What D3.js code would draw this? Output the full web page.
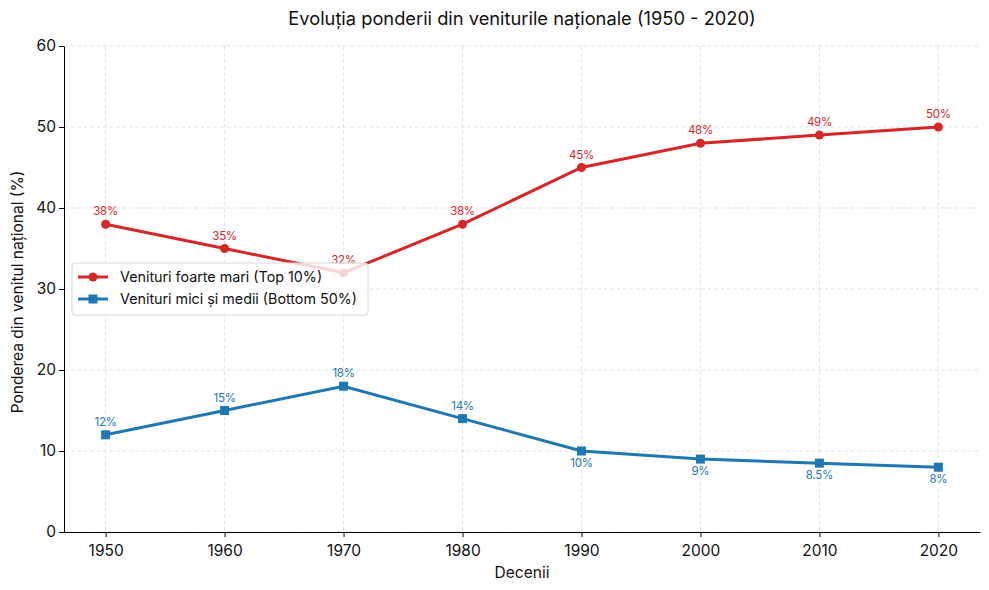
<!DOCTYPE html>
<html><head><meta charset="utf-8">
<script src="https://cdn.jsdelivr.net/npm/d3@7"></script>
<style>body{margin:0;background:#fff}svg{font-family:Inter,"Open Sans",sans-serif}</style>
</head><body><svg id="c" width="989" height="590"></svg>
<script>
const decades = [1950,1960,1970,1980,1990,2000,2010,2020];
const topShare = [38,35,32,38,45,48,49,50];
const bottomShare = [12,15,18,14,10,9,8.5,8];
const topLabels = ["38%","35%","32%","38%","45%","48%","49%","50%"];
const bottomLabels = ["12%","15%","18%","14%","10%","9%","8.5%","8%"];
const yTicks = [0,10,20,30,40,50,60];

const svg = d3.select("#c");
const L=64,R=980,T=46,B=532;
const x = d3.scaleLinear().domain([1946.5,2023.5]).range([L,R]);
const y = d3.scaleLinear().domain([0,60]).range([B,T]);

const grid = svg.append("g");
decades.forEach(d=>grid.append("line").attr("x1",x(d)).attr("x2",x(d)).attr("y1",T).attr("y2",B)
  .attr("stroke","#d6d6d6").attr("stroke-dasharray","4,2.5").attr("stroke-width",0.7));
yTicks.forEach(t=>grid.append("line").attr("x1",L).attr("x2",R).attr("y1",y(t)).attr("y2",y(t))
  .attr("stroke","#d6d6d6").attr("stroke-dasharray","4,2.5").attr("stroke-width",0.7));

const xa = svg.append("g").attr("transform",`translate(0,${B})`)
  .call(d3.axisBottom(x).tickValues(decades).tickFormat(d3.format("d")).tickSize(5).tickSizeOuter(0));
const ya = svg.append("g").attr("transform",`translate(${L},0)`)
  .call(d3.axisLeft(y).tickValues(yTicks).tickSize(5).tickSizeOuter(0));
[xa,ya].forEach(a=>{a.selectAll("text").attr("font-size",15.5).attr("fill","#111").attr("font-family","Inter");
  a.select(".domain").attr("stroke","#000");a.selectAll(".tick line").attr("stroke","#000");});
xa.selectAll("text").attr("dy","1.05em");
ya.selectAll("text").attr("x",-8);

const series = [
  {vals:topShare,labs:topLabels,color:"#d62728",shape:"circle",below:()=>false},
  {vals:bottomShare,labs:bottomLabels,color:"#1f77b4",shape:"square",below:(d)=>d>=1990}
];
const line = d3.line().x(d=>x(d[0])).y(d=>y(d[1]));
series.forEach(s=>{
  const pts = decades.map((d,i)=>[d,s.vals[i]]);
  svg.append("path").attr("d",line(pts)).attr("fill","none").attr("stroke",s.color).attr("stroke-width",3);
  pts.forEach((p,i)=>{
    if(s.shape==="circle") svg.append("circle").attr("cx",x(p[0])).attr("cy",y(p[1])).attr("r",4.5).attr("fill",s.color);
    else svg.append("rect").attr("x",x(p[0])-4.5).attr("y",y(p[1])-4.5).attr("width",9).attr("height",9).attr("fill",s.color);
    const below = s.below(p[0]);
    svg.append("text").attr("x",x(p[0])).attr("y",y(p[1])+(below?16:-9)).attr("text-anchor","middle")
      .attr("font-size",11.5).attr("letter-spacing",-0.3).attr("fill",s.color).text(s.labs[i]);
  });
});

// legend
const lg = svg.append("g");
lg.append("rect").attr("x",72).attr("y",263).attr("width",296).attr("height",52).attr("rx",3)
  .attr("fill","rgba(255,255,255,0.8)").attr("stroke","#d8d8d8");
const items=[["Venituri foarte mari (Top 10%)","#d62728","circle"],["Venituri mici și medii (Bottom 50%)","#1f77b4","square"]];
items.forEach((it,i)=>{
  const yy=277+i*22;
  lg.append("line").attr("x1",78).attr("x2",108).attr("y1",yy).attr("y2",yy).attr("stroke",it[1]).attr("stroke-width",3);
  if(it[2]==="circle") lg.append("circle").attr("cx",93).attr("cy",yy).attr("r",4.5).attr("fill",it[1]);
  else lg.append("rect").attr("x",88.5).attr("y",yy-4.5).attr("width",9).attr("height",9).attr("fill",it[1]);
  lg.append("text").attr("x",120).attr("y",yy+5).attr("font-size",14.3).attr("fill","#111").text(it[0]);
});

svg.append("text").attr("x",522).attr("y",25).attr("text-anchor","middle").attr("font-size",18.3).attr("fill","#111")
  .text("Evoluția ponderii din veniturile naționale (1950 - 2020)");
svg.append("text").attr("x",522).attr("y",578).attr("text-anchor","middle").attr("font-size",15.5).attr("fill","#111").text("Decenii");
svg.append("text").attr("transform","translate(23,292) rotate(-90)").attr("text-anchor","middle").attr("font-size",15.5).attr("fill","#111")
  .text("Ponderea din venitul național (%)");
</script></body></html>
